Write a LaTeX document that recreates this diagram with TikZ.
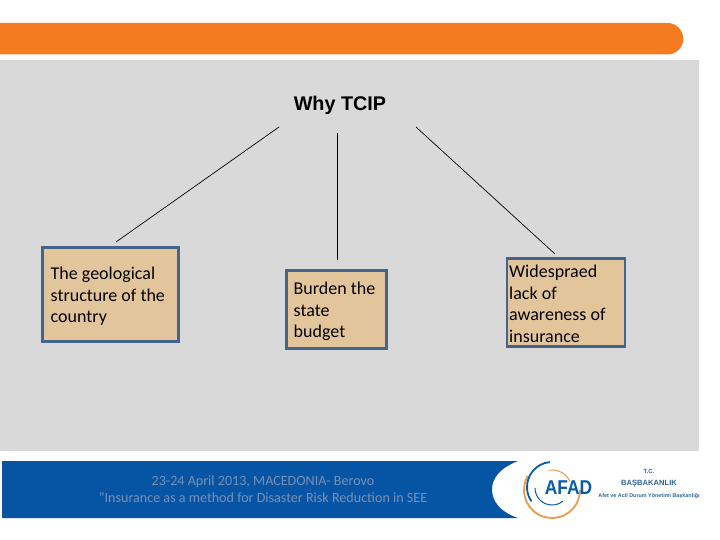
\documentclass[tikz,border=0pt]{standalone}
\usepackage{graphicx}
\usepackage{fontspec}
\setmainfont{Carlito}
\newfontfamily\headfont{Liberation Sans}
\definecolor{bandorange}{HTML}{F47B20}
\definecolor{panelgray}{HTML}{D9D9D9}
\definecolor{bandblue}{HTML}{0655A5}
\definecolor{boxfill}{HTML}{E3C59C}
\definecolor{boxline}{HTML}{44648C}
\definecolor{foottext}{HTML}{7891B6}
\definecolor{logoblue}{HTML}{0B5CA8}
\definecolor{logoorange}{HTML}{EE9A4D}
\tikzset{x=1pt,y=-1pt,
  reason/.style={draw=boxline,line width=2.6pt,fill=boxfill,inner sep=0pt,anchor=north west},
  reasontext/.style={anchor=north west,align=left,font=\fontsize{18}{21.6}\selectfont,text=black,inner sep=0pt},
  link/.style={draw=black,line width=0.7pt},
  foot/.style={font=\fontsize{14.1}{17}\selectfont,text=foottext,align=center}}
\begin{document}
\begin{tikzpicture}
\useasboundingbox (0,0) rectangle (720,540);
\fill[white] (0,0) rectangle (720,540);
% orange band
\fill[bandorange] (0,23) -- (667.5,23) arc[start angle=90,end angle=-90,radius=15.75pt] -- (0,54.5) -- cycle;
% gray panel
\fill[panelgray] (0,60) rectangle (699,451);
% title
\node[font=\headfont\bfseries\fontsize{19.8}{20}\selectfont,inner sep=0pt] (title) at (340,105.5) {Why TCIP};
% boxes
\node[reason,minimum width=136pt,minimum height=94pt] (geo) at (41,246) {};
\node[reason,minimum width=100pt,minimum height=78pt] (burden) at (285,269) {};
\node[reason,minimum width=118pt,minimum height=88pt] (aware) at (505.5,257) {};
\node[reasontext] (geotext) at (50.5,267) {The geological\\structure of the\\country};
\node[reasontext] (burdentext) at (293.5,282) {Burden the\\state\\budget};
\node[reasontext] (awaretext) at (509,265) {Widespraed\\lack of\\awareness of\\insurance};
% connectors
\coordinate (ga) at (279,127); \coordinate (gb) at (116,242);
\coordinate (ba) at (337.5,133); \coordinate (bb) at (337.5,260);
\coordinate (aa) at (416,127); \coordinate (ab) at (555,254);
\draw[link] (ga) -- (gb);
\draw[link] (ba) -- (bb);
\draw[link] (aa) -- (ab);
% footer band
\fill[bandblue] (2,461) -- (518,461) .. controls (500,468) and (492,478) .. (492,489.5) .. controls (492,501) and (500,512) .. (518,518) -- (2,518) -- cycle;
\node[foot] (foottxt) at (263,489.5) {23-24 April 2013, MACEDONIA- Berovo\\"Insurance as a method for Disaster Risk Reduction in SEE};
% logo
\draw[logoorange,line width=1.8pt] (552,490) ++(150:28pt) arc[start angle=150,end angle=360,radius=28pt];
\draw[logoblue,line width=1.8pt] (552,487) ++(95:25pt) arc[start angle=95,end angle=215,radius=25pt];
\draw[logoblue,line width=1pt] (552,488) ++(180:17pt) arc[start angle=180,end angle=310,radius=17pt];
\draw[logoorange,line width=1pt] (552,490) ++(100:20pt) arc[start angle=100,end angle=25,radius=20pt];
\node[font=\headfont\bfseries\fontsize{20}{20}\selectfont,text=logoblue,inner sep=0pt] (afad) at (568.5,488) {\scalebox{0.87}[1]{AFAD}};
\node[text=logoblue!70!gray,align=center,inner sep=0pt,font=\headfont\bfseries] (tc) at (649,484) {\fontsize{6}{8.6}\selectfont T.C.\\\fontsize{7.6}{8.6}\selectfont BAŞBAKANLIK\\\fontsize{5.4}{8.6}\selectfont Afet ve Acil Durum Yönetimi Başkanlığı};
\end{tikzpicture}
\end{document}
